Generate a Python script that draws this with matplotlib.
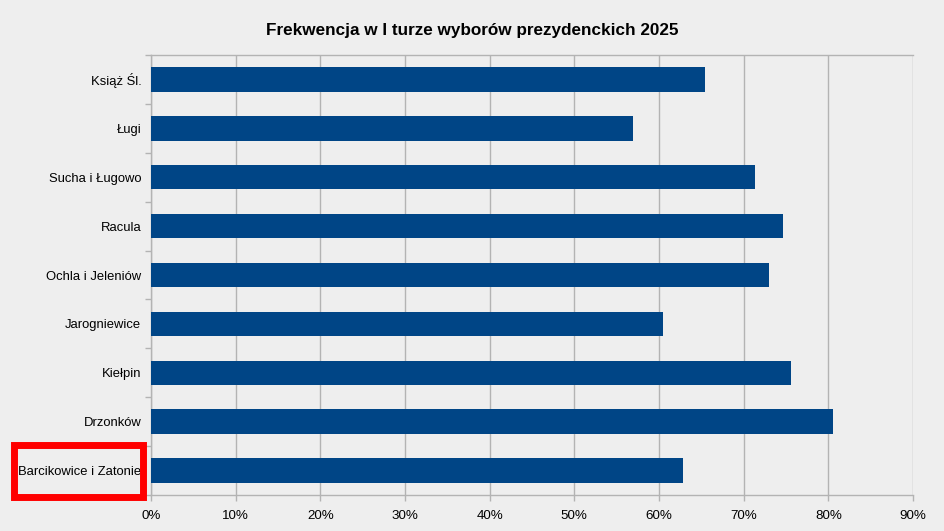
import matplotlib
matplotlib.use("Agg")
import matplotlib.pyplot as plt
from matplotlib.patches import Rectangle
from matplotlib.ticker import FuncFormatter, MultipleLocator

title = "Frekwencja w I turze wyborów prezydenckich 2025"
categories = ["Książ Śl.", "Ługi", "Sucha i Ługowo", "Racula", "Ochla i Jeleniów",
              "Jarogniewice", "Kiełpin", "Drzonków", "Barcikowice i Zatonie"]
turnout = [65.4, 56.9, 71.3, 74.6, 73.0, 60.5, 75.6, 80.5, 62.8]

plt.rcParams['font.family'] = ['Liberation Sans', 'DejaVu Sans']
bg = "#eeeeee"
fig = plt.figure(figsize=(9.45, 5.31), dpi=100, facecolor=bg)
W, H = 945, 531
ax = fig.add_axes([151 / W, 1 - 495 / H, (913 - 151) / W, (495 - 55) / H])
ax.set_facecolor(bg)

n = len(categories)
ypos = list(range(n))[::-1]
ax.barh(ypos, turnout, height=0.5, color="#004586", zorder=3)

ax.set_xlim(0, 90)
ax.set_ylim(-0.5, n - 0.5)
ax.xaxis.set_major_locator(MultipleLocator(10))
ax.xaxis.set_major_formatter(FuncFormatter(lambda v, p: f"{int(round(v))}%"))
ax.grid(axis="x", color="#b3b3b3", linewidth=1, zorder=0)

ax.set_yticks(ypos)
ax.set_yticklabels(categories)
ax.set_yticks([i + 0.5 for i in range(-1, n)], minor=True)
ax.tick_params(axis="y", which="major", length=0, pad=7, labelsize=9.4)
ax.tick_params(axis="y", which="minor", length=4, color="#b3b3b3", width=1)
ax.tick_params(axis="x", which="major", length=4, color="#b3b3b3", width=1, pad=6.5, labelsize=9.6)

for s in ["top", "left", "bottom"]:
    ax.spines[s].set_color("#b3b3b3")
    ax.spines[s].set_linewidth(1)
ax.spines["right"].set_visible(False)

fig.text(472 / W, 1 - 30 / H, title, ha="center", va="center",
         fontsize=12.3, fontweight="bold")

fig.add_artist(Rectangle((14.2 / W, 1 - 496.5 / H), (143 - 14.2) / W, (496.5 - 445.3) / H,
                         transform=fig.transFigure, fill=False,
                         edgecolor="#ff0000", linewidth=5))

fig.savefig("out.png", dpi=100, facecolor=bg)
